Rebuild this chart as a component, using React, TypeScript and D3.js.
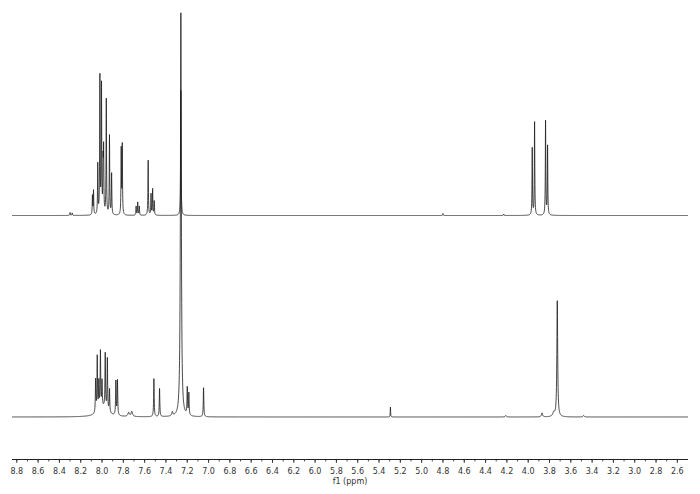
import React from "react";
import * as d3 from "d3";

// Upper spectrum: peak positions (ppm) and heights (arbitrary units)
const upperPpm = [8.30, 8.28, 8.09, 8.08, 8.04, 8.02, 8.005, 7.99, 7.985, 7.96, 7.93, 7.91, 7.82, 7.81, 7.68, 7.665, 7.65, 7.567, 7.54, 7.525, 7.51, 7.26, 4.80, 4.23, 3.962, 3.94, 3.837, 3.818];
const upperHeight = [3, 2.5, 19, 24, 50, 137, 128, 47, 60, 115, 79, 41, 65, 69, 9, 13, 9, 55, 21, 26, 14, 125, 2, 1.5, 67, 93, 94, 69];

// Lower spectrum: peak positions (ppm), heights and half widths (ppm)
const lowerPpm = [8.06, 8.045, 8.03, 8.015, 8.0, 7.97, 7.95, 7.93, 7.99, 7.87, 7.855, 7.75, 7.72, 7.513, 7.46, 7.34, 7.26, 7.20, 7.185, 7.047, 5.293, 4.21, 3.87, 3.76, 3.727, 3.48];
const lowerHeight = [33, 55, 28, 57, 26, 55, 52, 23, 9, 34, 35, 4, 5, 38, 28, 4, 404, 27, 22, 29, 10, 1.5, 4, 4, 116, 1.5];
const lowerWidth = [0.003, 0.003, 0.003, 0.003, 0.003, 0.003, 0.003, 0.003, 0.05, 0.003, 0.003, 0.008, 0.008, 0.003, 0.003, 0.006, 0.005, 0.003, 0.003, 0.003, 0.002, 0.006, 0.006, 0.01, 0.0045, 0.006];

// Axis ticks
const majorTicks = [8.8, 8.6, 8.4, 8.2, 8.0, 7.8, 7.6, 7.4, 7.2, 7.0, 6.8, 6.6, 6.4, 6.2, 6.0, 5.8, 5.6, 5.4, 5.2, 5.0, 4.8, 4.6, 4.4, 4.2, 4.0, 3.8, 3.6, 3.4, 3.2, 3.0, 2.8, 2.6];
const xDomain = [8.845, 2.5];
const axisLabel = "f1 (ppm)";

const W = 700, H = 494;

function buildSpectrum(ppm: number[], height: number[], width: (i: number) => number) {
  const grid: number[] = d3.range(xDomain[1], xDomain[0], 0.0012);
  ppm.forEach((p) => grid.push(p));
  grid.sort((a, b) => b - a);
  return grid.map((x) => {
    let s = 0;
    for (let i = 0; i < ppm.length; i++) {
      const w = width(i);
      const d = x - ppm[i];
      s += (height[i] * w * w) / (d * d + w * w);
    }
    return [x, s] as [number, number];
  });
}

export default function App() {
  const x = d3.scaleLinear().domain(xDomain).range([12, 688]);
  const yUpper = d3.scaleLinear().domain([0, 100]).range([215.5, 115.5]);
  const yLower = d3.scaleLinear().domain([0, 100]).range([417, 317]);

  const upper = buildSpectrum(upperPpm, upperHeight, () => 0.0025);
  const lower = buildSpectrum(lowerPpm, lowerHeight, (i) => lowerWidth[i]);

  const lineU = d3.line<[number, number]>().x((d) => x(d[0])).y((d) => yUpper(d[1]));
  const lineL = d3.line<[number, number]>().x((d) => x(d[0])).y((d) => yLower(d[1]));

  const minorTicks = d3.range(0, 64).map((i) => 8.8 - i * 0.1).filter((v) => v > 2.5);
  const axisY = 459.5;
  const font = "DejaVu Sans, Verdana, sans-serif";

  return (
    <svg width={W} height={H} style={{ position: "absolute", left: 0, top: 0, background: "#fff" }}>
      <path d={lineL(lower) || ""} fill="none" stroke="#1a1a1a" strokeWidth={0.8} />
      <path d={lineU(upper) || ""} fill="none" stroke="#1a1a1a" strokeWidth={0.8} />
      <line x1={x(xDomain[0])} x2={x(xDomain[1])} y1={axisY} y2={axisY} stroke="#222" strokeWidth={1} />
      {minorTicks.map((t, i) => (
        <line key={"m" + i} x1={x(t)} x2={x(t)} y1={axisY} y2={axisY + 2} stroke="#222" strokeWidth={0.8} />
      ))}
      {majorTicks.map((t, i) => (
        <g key={"t" + i}>
          <line x1={x(t)} x2={x(t)} y1={axisY} y2={axisY + 3.5} stroke="#222" strokeWidth={0.8} />
          <text x={x(t)} y={474} textAnchor="middle" fontFamily={font} fontSize={8} fill="#333">
            {t.toFixed(1)}
          </text>
        </g>
      ))}
      <text x={350} y={483.5} textAnchor="middle" fontFamily={font} fontSize={8} fill="#333">
        {axisLabel}
      </text>
    </svg>
  );
}
